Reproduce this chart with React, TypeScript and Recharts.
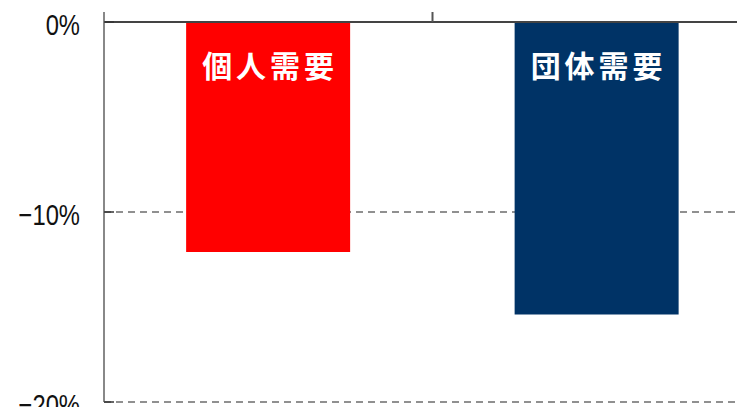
import React from 'react';
import {
  BarChart,
  Bar,
  XAxis,
  YAxis,
  CartesianGrid,
  ReferenceLine,
  LabelList,
  Cell,
} from 'recharts';

const categories = ['個人需要', '団体需要'];
const changeValues = [-12.1, -15.4];
const barColors = ['#FF0000', '#003366'];
const yTicks = [0, -10, -20];
const gridValues = [-10, -20];

const data = categories.map((name, i) => ({ name, value: changeValues[i] }));

const YTick = (props: any) => {
  const { x, y, payload } = props;
  const label = payload.value === 0 ? '0%' : `\u2212${Math.abs(payload.value)}%`;
  return (
    <g>
      <line x1={x + 24} x2={x + 34} y1={y} y2={y} stroke="#333" strokeWidth={1.5} />
      <text
        transform={`translate(${x},${y + 13}) scale(0.82,1)`}
        textAnchor="end"
        fill="#111"
        fontSize={29}
        fontFamily="'Liberation Sans', Arial, sans-serif"
      >
        {label}
      </text>
    </g>
  );
};

// short tick on the zero line between the two categories (band edge)
const SepTick = (props: any) => {
  const { x, y, payload, index } = props;
  if (index !== 0) return <g />;
  const edge = x + (payload.offset ?? 0);
  return <line x1={edge} x2={edge} y1={y} y2={y + 10} stroke="#555" strokeWidth={2} />;
};

// label at the top (zero end) of each negative bar
const BarName = (props: any) => {
  const { x, y, width, height, value } = props;
  const top = Math.min(y, y + height);
  return (
    <text
      x={x + width / 2 + 2}
      y={top + 55}
      textAnchor="middle"
      fill="#fff"
      fontSize={30}
      fontWeight="bold"
      letterSpacing={4}
      fontFamily="'Noto Sans CJK JP', sans-serif"
    >
      {value}
    </text>
  );
};

export default function App() {
  return (
    <div style={{ margin: -8, width: 745, height: 415, overflow: 'hidden', background: '#fff' }}>
      <BarChart
        width={800}
        height={430}
        data={data}
        margin={{ top: 12, right: 39, bottom: 28, left: 0 }}
        barCategoryGap="25%"
      >
        <CartesianGrid
          vertical={false}
          horizontalValues={gridValues}
          stroke="#222"
          strokeWidth={1.2}
          strokeDasharray="7 5"
        />
        <XAxis
          dataKey="name"
          orientation="top"
          mirror
          axisLine={false}
          tickLine={false}
          tickSize={0}
          tickMargin={0}
          tick={<SepTick />}
        />
        <YAxis
          domain={[-20, 10 / 19]}
          ticks={yTicks}
          width={104}
          allowDataOverflow
          tickLine={false}
          tickSize={0}
          tickMargin={24}
          axisLine={{ stroke: '#888', strokeWidth: 2 }}
          tick={<YTick />}
        />
        <ReferenceLine y={0} stroke="#444" strokeWidth={2} />
        <Bar dataKey="value" isAnimationActive={false}>
          {data.map((d, i) => (
            <Cell key={d.name} fill={barColors[i]} />
          ))}
          <LabelList dataKey="name" content={<BarName />} />
        </Bar>
      </BarChart>
    </div>
  );
}
